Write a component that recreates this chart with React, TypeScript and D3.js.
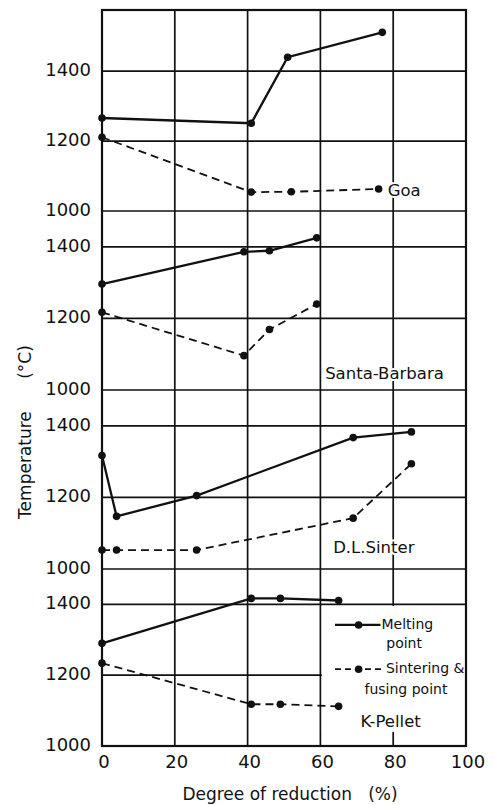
import React, { useEffect, useRef } from "react"
import * as d3 from "d3"

// panels, top to bottom
const panelNames = ["Goa", "Santa-Barbara", "D.L.Sinter", "K-Pellet"]
const panelMax = [1575, 1500, 1500, 1500]

// degree of reduction (%) / temperature (°C)
const goaMeltX = [0, 41, 51, 77]
const goaMeltY = [1266, 1251, 1440, 1511]
const goaSintX = [0, 41, 52, 76]
const goaSintY = [1211, 1054, 1055, 1063]

const sbMeltX = [0, 39, 46, 59]
const sbMeltY = [1296, 1386, 1389, 1425]
const sbSintX = [0, 39, 46, 59]
const sbSintY = [1217, 1096, 1169, 1240]

const dlMeltX = [0, 4, 26, 69, 85]
const dlMeltY = [1317, 1147, 1205, 1367, 1383]
const dlSintX = [0, 4, 26, 69, 85]
const dlSintY = [1053, 1053, 1053, 1142, 1294]

const kpMeltX = [0, 41, 49, 65]
const kpMeltY = [1290, 1417, 1417, 1411]
const kpSintX = [0, 41, 49, 65]
const kpSintY = [1234, 1118, 1118, 1112]

const xTicks = [0, 20, 40, 60, 80, 100]
const yTicks = [1000, 1200, 1400]
const xGrid = [20, 40, 60, 80]
const yGrid = [1200, 1400]

const W = 495
const H = 805
const left = 102
const right = 466
const edges = [10, 211, 390, 569, 746]
const font = "DejaVu Sans, sans-serif"

export default function App() {
  const ref = useRef<SVGSVGElement>(null)

  useEffect(() => {
    const svg = d3.select(ref.current)
    svg.selectAll("*").remove()

    const x = d3.scaleLinear().domain([0, 100]).range([left, right])
    const ys = panelMax.map((m, i) =>
      d3.scaleLinear().domain([1000, m]).range([edges[i + 1], edges[i]])
    )

    const series = [
      { melt: [goaMeltX, goaMeltY], sint: [goaSintX, goaSintY] },
      { melt: [sbMeltX, sbMeltY], sint: [sbSintX, sbSintY] },
      { melt: [dlMeltX, dlMeltY], sint: [dlSintX, dlSintY] },
      { melt: [kpMeltX, kpMeltY], sint: [kpSintX, kpSintY] },
    ]

    const g = svg.append("g")

    // grid
    ys.forEach((y, i) => {
      xGrid.forEach((v) => {
        g.append("line")
          .attr("x1", x(v)).attr("x2", x(v))
          .attr("y1", edges[i]).attr("y2", edges[i + 1])
          .attr("stroke", "#111").attr("stroke-width", 1.7)
      })
      yGrid.forEach((v) => {
        g.append("line")
          .attr("x1", left).attr("x2", right)
          .attr("y1", y(v)).attr("y2", y(v))
          .attr("stroke", "#111").attr("stroke-width", 1.7)
      })
      g.append("line")
        .attr("x1", left).attr("x2", right)
        .attr("y1", edges[i + 1]).attr("y2", edges[i + 1])
        .attr("stroke", "#111").attr("stroke-width", 1.7)
    })

    // legend area in the K-Pellet panel hides the grid
    const yk = ys[3]
    g.append("rect")
      .attr("x", x(60) + 1.5)
      .attr("y", yk(1400) + 1.5)
      .attr("width", x(100) - x(60) - 1.5)
      .attr("height", yk(1040) - yk(1400) - 1.5)
      .attr("fill", "white")

    // frame
    g.append("rect")
      .attr("x", left).attr("y", edges[0])
      .attr("width", right - left).attr("height", edges[4] - edges[0])
      .attr("fill", "none").attr("stroke", "#111").attr("stroke-width", 2.2)

    // panel labels
    const labelPos = [
      [78.5, 1055],
      [61.3, 1042],
      [63.5, 1058],
      [71, 1067],
    ]
    panelNames.forEach((name, i) => {
      g.append("text")
        .attr("x", x(labelPos[i][0]))
        .attr("y", ys[i](labelPos[i][1]))
        .attr("dominant-baseline", "middle")
        .style("paint-order", "stroke")
        .attr("stroke", "white").attr("stroke-width", 4)
        .attr("fill", "#111")
        .style("font-family", font).style("font-size", "16.5px")
        .text(name)
    })

    // data lines
    const line = d3
      .line<[number, number]>()
      .x((d) => x(d[0]))

    series.forEach((s, i) => {
      const y = ys[i]
      const lg = line.y((d) => y(d[1]))
      ;[
        { pts: s.melt, dash: null, w: 2.3 },
        { pts: s.sint, dash: "8,5", w: 1.8 },
      ].forEach((ser) => {
        const pts = ser.pts[0].map((v, k) => [v, ser.pts[1][k]] as [number, number])
        g.append("path")
          .attr("d", lg(pts))
          .attr("fill", "none")
          .attr("stroke", "#111")
          .attr("stroke-width", ser.w)
          .attr("stroke-dasharray", ser.dash)
        g.selectAll(null)
          .data(pts)
          .enter()
          .append("circle")
          .attr("cx", (d) => x(d[0]))
          .attr("cy", (d) => y(d[1]))
          .attr("r", 3.8)
          .attr("fill", "#111")
      })
    })

    // legend
    const legFont = (t: d3.Selection<SVGTextElement, unknown, null, undefined>) =>
      t.style("font-family", font).style("font-size", "14px").attr("fill", "#111")
    const lx0 = x(64), lx1 = x(76.5), ldot = x(70.5)
    const mY = yk(1342), sY = yk(1217)
    g.append("line").attr("x1", lx0).attr("x2", lx1).attr("y1", mY).attr("y2", mY)
      .attr("stroke", "#111").attr("stroke-width", 2.2)
    g.append("circle").attr("cx", ldot).attr("cy", mY).attr("r", 3.8).attr("fill", "#111")
    legFont(g.append("text").attr("x", lx1 + 1).attr("y", mY).attr("dominant-baseline", "middle").text("Melting"))
    legFont(g.append("text").attr("x", x(83)).attr("y", yk(1288)).attr("dominant-baseline", "middle").attr("text-anchor", "middle").text("point"))
    g.append("line").attr("x1", lx0).attr("x2", x(77.5)).attr("y1", sY).attr("y2", sY)
      .attr("stroke", "#111").attr("stroke-width", 1.7).attr("stroke-dasharray", "6,4")
    g.append("circle").attr("cx", ldot).attr("cy", sY).attr("r", 3.8).attr("fill", "#111")
    legFont(g.append("text").attr("x", x(78)).attr("y", sY).attr("dominant-baseline", "middle").text("Sintering &"))
    legFont(g.append("text").attr("x", x(83.5)).attr("y", yk(1158)).attr("dominant-baseline", "middle").attr("text-anchor", "middle").text("fusing point"))

    // y tick labels
    ys.forEach((y) => {
      yTicks.forEach((v) => {
        g.append("text")
          .attr("x", left - 11)
          .attr("y", y(v))
          .attr("text-anchor", "end")
          .attr("dominant-baseline", "middle")
          .style("font-family", font).style("font-size", "18px")
          .attr("fill", "#111")
          .text(v)
      })
    })

    // x tick labels
    xTicks.forEach((v) => {
      g.append("text")
        .attr("x", x(v) + 2)
        .attr("y", edges[4] + 17)
        .attr("text-anchor", "middle")
        .attr("dominant-baseline", "middle")
        .style("font-family", font).style("font-size", "18px")
        .attr("fill", "#111")
        .text(v)
    })

    // axis titles
    g.append("text")
      .attr("x", 290)
      .attr("y", 795)
      .attr("text-anchor", "middle")
      .attr("dominant-baseline", "middle")
      .style("font-family", font).style("font-size", "17px")
      .style("white-space", "pre")
      .attr("fill", "#111")
      .text("Degree of reduction   (%)")

    g.append("text")
      .attr("transform", "translate(26,432) rotate(-90)")
      .attr("text-anchor", "middle")
      .attr("dominant-baseline", "middle")
      .style("font-family", font).style("font-size", "17px")
      .style("white-space", "pre")
      .attr("fill", "#111")
      .text("Temperature      (°C)")
  }, [])

  return (
    <svg
      ref={ref}
      width={W}
      height={H}
      style={{ position: "absolute", left: 0, top: 0, background: "white" }}
    />
  )
}
